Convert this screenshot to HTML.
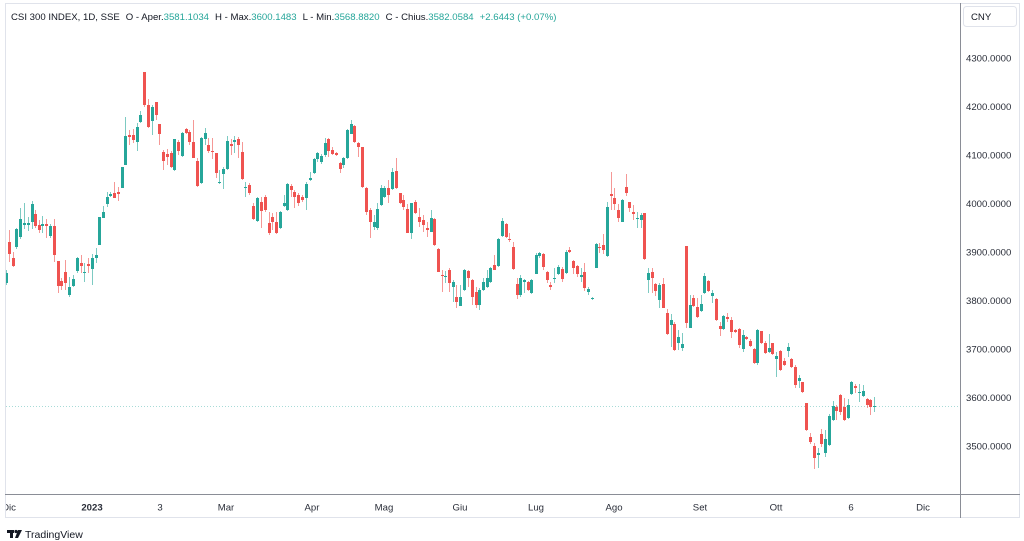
<!DOCTYPE html>
<html><head><meta charset="utf-8"><style>
html,body{margin:0;padding:0;background:#fff;}
body{width:1024px;height:541px;overflow:hidden;font-family:"Liberation Sans",sans-serif;}
svg{display:block}
</style></head><body>
<svg width="1024" height="541" viewBox="0 0 1024 541" xmlns="http://www.w3.org/2000/svg" font-family="Liberation Sans, sans-serif">
<defs><clipPath id="c"><rect x="6" y="4" width="954" height="490"/></clipPath></defs>
<rect x="5.5" y="3.5" width="1014" height="514" fill="#fff" stroke="#e0e3eb"/>
<line x1="960.5" y1="3" x2="960.5" y2="518" stroke="#8a8d96"/>
<line x1="5" y1="494.5" x2="1020" y2="494.5" stroke="#8a8d96"/>
<line x1="6" y1="406.5" x2="960" y2="406.5" stroke="#26a69a" stroke-opacity="0.4" stroke-dasharray="1 2"/>
<g clip-path="url(#c)">
<path fill="none" stroke="#26a69a" stroke-opacity="0.6" d="M6.5 270V285 M16.5 228V249 M20.5 208V239 M24.5 203V229 M28.5 217V231 M32.5 201V229 M42.5 216V233 M50.5 224V238 M69.5 277V297 M73.5 275V287 M77.5 257V273 M84.5 263V282 M92.5 254V285 M96.5 248V263 M99.5 217V245 M103.5 206V218 M107.5 192V207 M110.5 192V197 M122.5 167V188 M125.5 117V165 M137.5 123V151 M140.5 111V123 M152.5 105V135 M174.5 139V171 M182.5 132V157 M201.5 137V184 M205.5 128V145 M219.5 170V184 M223.5 167V189 M227.5 136V170 M234.5 136V153 M245.5 182V197 M257.5 197V222 M280.5 211V229 M284.5 195V207 M287.5 183V211 M306.5 182V210 M310.5 172V181 M314.5 158V174 M317.5 152V162 M321.5 154V164 M325.5 138V157 M343.5 157V168 M347.5 129V159 M351.5 120V134 M374.5 215V230 M377.5 203V230 M381.5 185V206 M384.5 186V198 M392.5 168V190 M411.5 203V239 M431.5 210V232 M445.5 271V283 M453.5 280V302 M460.5 285V306 M464.5 269V291 M479.5 288V310 M483.5 278V291 M487.5 270V288 M490.5 267V283 M498.5 238V267 M502.5 218V237 M520.5 275V297 M524.5 279V293 M531.5 279V294 M536.5 253V274 M539.5 252V258 M554.5 268V283 M558.5 265V275 M566.5 250V274 M581.5 268V282 M588.5 287V295 M592.5 297V300 M596.5 243V268 M607.5 202V257 M622.5 199V222 M637.5 212V228 M641.5 213V228 M648.5 268V293 M659.5 283V308 M671.5 314V347 M678.5 330V350 M682.5 333V351 M690.5 295V328 M701.5 295V312 M704.5 273V294 M712.5 290V303 M723.5 315V330 M743.5 330V352 M757.5 329V365 M769.5 334V353 M776.5 352V377 M788.5 343V357 M799.5 375V388 M818.5 448V468 M825.5 430V457 M829.5 414V446 M833.5 401V421 M848.5 399V419 M851.5 381V395 M859.5 384V402 M863.5 385V397 M874.5 397V412"/>
<path fill="none" stroke="#ef5350" stroke-opacity="0.6" d="M9.5 230V262 M13.5 252V267 M35.5 210V228 M39.5 220V233 M46.5 219V238 M54.5 219V262 M58.5 261V293 M61.5 278V290 M65.5 260V290 M81.5 255V273 M88.5 258V273 M114.5 182V198 M118.5 187V201 M129.5 130V145 M133.5 129V143 M144.5 72V107 M148.5 99V128 M156.5 102V120 M159.5 124V145 M163.5 150V170 M167.5 149V165 M171.5 151V168 M178.5 140V155 M186.5 128V134 M189.5 130V145 M193.5 120V158 M197.5 158V187 M208.5 138V153 M212.5 138V159 M216.5 153V178 M231.5 139V155 M238.5 137V158 M242.5 142V180 M249.5 183V195 M253.5 203V220 M261.5 197V228 M265.5 195V212 M269.5 212V235 M272.5 213V230 M276.5 212V234 M291.5 184V197 M294.5 190V208 M298.5 193V206 M302.5 195V202 M328.5 138V157 M332.5 147V155 M336.5 152V156 M340.5 162V173 M354.5 125V143 M358.5 142V157 M362.5 147V188 M366.5 187V215 M370.5 208V238 M388.5 180V203 M396.5 158V189 M400.5 193V204 M403.5 195V210 M407.5 204V233 M415.5 200V214 M419.5 208V227 M423.5 215V232 M427.5 222V237 M434.5 218V246 M438.5 248V272 M442.5 270V292 M449.5 268V292 M456.5 285V308 M468.5 270V287 M472.5 279V305 M476.5 287V308 M494.5 255V270 M506.5 223V238 M509.5 233V242 M513.5 242V270 M517.5 278V299 M528.5 281V291 M543.5 253V270 M547.5 271V283 M550.5 282V290 M562.5 267V282 M569.5 247V253 M573.5 260V274 M577.5 265V277 M584.5 263V291 M599.5 243V253 M603.5 234V254 M611.5 172V210 M614.5 188V210 M618.5 204V222 M626.5 174V196 M629.5 202V212 M633.5 205V220 M644.5 213V260 M652.5 268V293 M655.5 283V296 M663.5 278V308 M667.5 309V335 M674.5 322V351 M686.5 246V328 M693.5 295V307 M697.5 298V318 M708.5 280V292 M716.5 298V321 M720.5 322V336 M727.5 313V322 M731.5 317V338 M735.5 329V333 M739.5 328V348 M746.5 336V340 M750.5 339V347 M754.5 348V364 M761.5 331V344 M765.5 341V354 M772.5 343V355 M780.5 350V371 M784.5 358V366 M791.5 358V368 M795.5 365V388 M802.5 382V393 M806.5 403V431 M810.5 433V444 M814.5 443V469 M821.5 429V447 M836.5 405V420 M840.5 394V415 M844.5 398V421 M855.5 384V393 M867.5 398V408 M870.5 399V415"/>
<path fill="#26a69a" d="M5 273h3v10h-3z M15 229h3v18h-3z M19 219h3v18h-3z M23 223h3v2h-3z M27 223h3v2h-3z M31 204h3v18h-3z M41 224h3v2h-3z M49 226h3v10h-3z M68 287h3v8h-3z M72 279h3v7h-3z M76 258h3v13h-3z M83 272h3v1h-3z M91 258h3v11h-3z M95 255h3v3h-3z M98 217h3v28h-3z M102 212h3v6h-3z M106 197h3v7h-3z M109 194h3v2h-3z M121 167h3v21h-3z M124 136h3v29h-3z M136 127h3v15h-3z M139 115h3v7h-3z M151 107h3v14h-3z M173 139h3v31h-3z M181 133h3v23h-3z M200 138h3v45h-3z M204 133h3v6h-3z M218 182h3v1h-3z M222 169h3v5h-3z M226 141h3v28h-3z M233 140h3v2h-3z M244 187h3v1h-3z M256 198h3v23h-3z M279 212h3v16h-3z M283 203h3v3h-3z M286 184h3v26h-3z M305 184h3v14h-3z M309 178h3v2h-3z M313 159h3v14h-3z M316 153h3v6h-3z M320 156h3v6h-3z M324 143h3v12h-3z M342 158h3v7h-3z M346 130h3v28h-3z M350 124h3v10h-3z M373 222h3v5h-3z M376 209h3v19h-3z M380 188h3v17h-3z M383 188h3v9h-3z M391 172h3v17h-3z M410 203h3v30h-3z M430 218h3v14h-3z M444 276h3v1h-3z M452 282h3v5h-3z M459 297h3v9h-3z M463 270h3v20h-3z M478 290h3v15h-3z M482 282h3v8h-3z M486 278h3v9h-3z M489 268h3v14h-3z M497 239h3v27h-3z M501 221h3v15h-3z M519 278h3v17h-3z M523 280h3v2h-3z M530 280h3v13h-3z M535 255h3v19h-3z M538 253h3v3h-3z M553 278h3v1h-3z M557 267h3v7h-3z M565 252h3v21h-3z M580 275h3v2h-3z M587 289h3v3h-3z M591 298h3v1h-3z M595 244h3v24h-3z M606 207h3v49h-3z M621 200h3v22h-3z M636 218h3v1h-3z M640 215h3v5h-3z M647 273h3v7h-3z M658 285h3v15h-3z M670 320h3v5h-3z M677 337h3v6h-3z M681 344h3v4h-3z M689 305h3v23h-3z M700 304h3v7h-3z M703 276h3v17h-3z M711 293h3v3h-3z M722 316h3v13h-3z M742 335h3v14h-3z M756 330h3v33h-3z M768 348h3v4h-3z M775 356h3v3h-3z M787 347h3v4h-3z M798 378h3v3h-3z M817 453h3v2h-3z M824 439h3v14h-3z M828 416h3v29h-3z M832 406h3v14h-3z M847 405h3v13h-3z M850 382h3v12h-3z M858 392h3v1h-3z M862 391h3v5h-3z M873 406h3v1h-3z"/>
<path fill="#ef5350" d="M8 242h3v12h-3z M12 258h3v8h-3z M34 214h3v12h-3z M38 225h3v5h-3z M45 224h3v2h-3z M53 226h3v29h-3z M57 261h3v25h-3z M60 281h3v5h-3z M64 272h3v11h-3z M80 263h3v3h-3z M87 264h3v2h-3z M113 193h3v5h-3z M117 192h3v2h-3z M128 135h3v2h-3z M132 135h3v5h-3z M143 72h3v33h-3z M147 105h3v22h-3z M155 102h3v13h-3z M158 124h3v10h-3z M162 152h3v9h-3z M166 154h3v3h-3z M170 153h3v14h-3z M177 142h3v9h-3z M185 129h3v4h-3z M188 132h3v10h-3z M192 142h3v16h-3z M196 161h3v25h-3z M207 145h3v6h-3z M211 151h3v1h-3z M215 153h3v20h-3z M230 144h3v2h-3z M237 139h3v6h-3z M241 152h3v27h-3z M248 185h3v8h-3z M252 206h3v13h-3z M260 202h3v9h-3z M264 197h3v13h-3z M268 223h3v10h-3z M271 217h3v5h-3z M275 222h3v11h-3z M290 186h3v4h-3z M293 192h3v5h-3z M297 195h3v8h-3z M301 197h3v3h-3z M327 139h3v12h-3z M331 150h3v4h-3z M335 153h3v2h-3z M339 163h3v6h-3z M353 126h3v16h-3z M357 143h3v4h-3z M361 147h3v40h-3z M365 188h3v24h-3z M369 210h3v12h-3z M387 188h3v7h-3z M395 171h3v17h-3z M399 193h3v10h-3z M402 200h3v7h-3z M406 209h3v24h-3z M414 202h3v11h-3z M418 217h3v5h-3z M422 220h3v5h-3z M426 228h3v2h-3z M433 219h3v26h-3z M437 249h3v23h-3z M441 275h3v1h-3z M448 270h3v13h-3z M455 297h3v5h-3z M467 271h3v7h-3z M471 280h3v17h-3z M475 292h3v13h-3z M493 265h3v5h-3z M505 224h3v13h-3z M508 239h3v1h-3z M512 247h3v22h-3z M516 284h3v11h-3z M527 282h3v8h-3z M542 254h3v13h-3z M546 272h3v8h-3z M549 285h3v2h-3z M561 269h3v10h-3z M568 250h3v2h-3z M572 261h3v7h-3z M576 266h3v8h-3z M583 272h3v16h-3z M598 247h3v1h-3z M602 245h3v5h-3z M610 194h3v2h-3z M613 198h3v6h-3z M617 210h3v8h-3z M625 187h3v6h-3z M628 202h3v6h-3z M632 212h3v2h-3z M643 213h3v46h-3z M651 272h3v6h-3z M654 284h3v7h-3z M662 284h3v24h-3z M666 313h3v21h-3z M673 324h3v26h-3z M685 246h3v77h-3z M692 298h3v8h-3z M696 307h3v10h-3z M707 281h3v10h-3z M715 299h3v21h-3z M719 326h3v3h-3z M726 317h3v2h-3z M730 320h3v12h-3z M734 330h3v2h-3z M738 329h3v16h-3z M745 337h3v2h-3z M749 341h3v5h-3z M753 349h3v14h-3z M760 331h3v12h-3z M764 343h3v10h-3z M771 343h3v11h-3z M779 351h3v19h-3z M783 361h3v4h-3z M790 359h3v8h-3z M794 367h3v18h-3z M801 382h3v10h-3z M805 403h3v27h-3z M809 437h3v5h-3z M813 446h3v12h-3z M820 434h3v10h-3z M835 407h3v4h-3z M839 395h3v17h-3z M843 407h3v13h-3z M854 386h3v2h-3z M866 399h3v6h-3z M869 400h3v7h-3z"/>
</g>
<!-- header -->
<text x="11" y="20" font-size="9.6" fill="#131722">CSI 300 INDEX, 1D, SSE<tspan dx="6">O - Aper.</tspan><tspan fill="#26a69a">3581.1034</tspan><tspan dx="6">H - Max.</tspan><tspan fill="#26a69a">3600.1483</tspan><tspan dx="6">L - Min.</tspan><tspan fill="#26a69a">3568.8820</tspan><tspan dx="6">C - Chius.</tspan><tspan fill="#26a69a">3582.0584</tspan><tspan dx="6" fill="#26a69a">+2.6443 (+0.07%)</tspan></text>
<!-- price axis -->
<rect x="963.5" y="6.5" width="53" height="20" rx="3" fill="#fff" stroke="#e0e3eb"/>
<text x="971" y="20" font-size="9.6" fill="#131722">CNY</text>
<g font-size="9.6" fill="#2a2e39">
<text x="966" y="61.5">4300.0000</text>
<text x="966" y="110">4200.0000</text>
<text x="966" y="158.5">4100.0000</text>
<text x="966" y="207">4000.0000</text>
<text x="966" y="255.5">3900.0000</text>
<text x="966" y="304">3800.0000</text>
<text x="966" y="352.5">3700.0000</text>
<text x="966" y="401">3600.0000</text>
<text x="966" y="449.5">3500.0000</text>
</g>
<!-- time axis -->
<svg x="6" y="495" width="954" height="22">
<g font-size="9.6" fill="#2a2e39" text-anchor="middle">
<text x="3" y="15.5">Dic</text>
<text x="86" y="15.5" font-weight="bold">2023</text>
<text x="154" y="15.5">3</text>
<text x="220" y="15.5">Mar</text>
<text x="306" y="15.5">Apr</text>
<text x="378" y="15.5">Mag</text>
<text x="454" y="15.5">Giu</text>
<text x="530" y="15.5">Lug</text>
<text x="608" y="15.5">Ago</text>
<text x="694" y="15.5">Set</text>
<text x="770" y="15.5">Ott</text>
<text x="845" y="15.5">6</text>
<text x="917" y="15.5">Dic</text>
</g>
</svg>
<!-- logo -->
<g fill="#131722">
<rect x="7" y="530" width="7" height="3"/>
<rect x="10" y="530" width="3" height="8"/>
<circle cx="16" cy="531.5" r="1.6"/>
<path d="M18 530h4l-4 8h-3z"/>
</g>
<text x="25" y="538" font-size="10.5" fill="#131722">TradingView</text>
</svg>
</body></html>
